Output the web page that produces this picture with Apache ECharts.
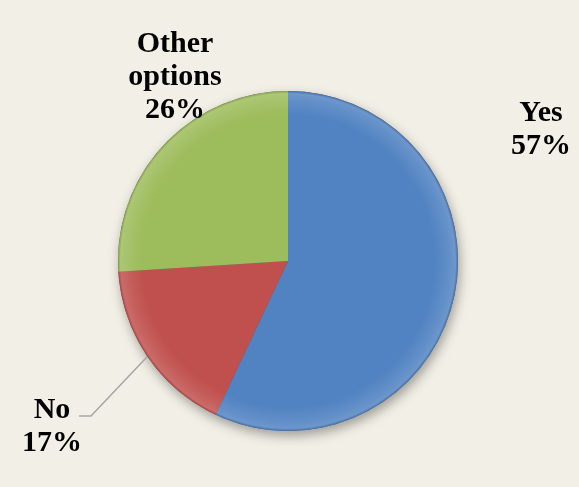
<!DOCTYPE html>
<html>
<head>
<meta charset="utf-8">
<script src="https://cdn.jsdelivr.net/npm/echarts@6/dist/echarts.min.js"></script>
<style>
  html, body { margin: 0; padding: 0; background: #F2F0E6; }
  #chart { width: 579px; height: 487px; }
</style>
</head>
<body>
<div id="chart"></div>
<script>
// Survey answers, in clockwise order from 12 o'clock
const categories = ['Yes', 'No', 'Other\noptions'];
const values = [57, 17, 26];
const colors = ['#5183C2', '#C0504D', '#9DBC5B'];

// Where each answer's label block sits (centre of the text block)
const labelSpots = [
  { x: 541, y: 130 },
  { x: 52, y: 427 },
  { x: 175, y: 77 }
];

const PIE_CENTER = [288, 261];
const PIE_RADIUS = 170;

const chart = echarts.init(document.getElementById('chart'), null, { renderer: 'canvas' });

const labelFont = {
  fontFamily: '"Liberation Serif", "Times New Roman", serif',
  fontWeight: 'bold',
  fontSize: 30,
  lineHeight: 33,
  color: '#000000'
};

const option = {
  backgroundColor: '#F2F0E6',
  animation: false,
  series: [
    // soft drop shadow under the whole disc
    {
      type: 'pie',
      silent: true,
      center: PIE_CENTER,
      radius: PIE_RADIUS,
      label: { show: false },
      labelLine: { show: false },
      itemStyle: {
        color: '#5a5a5a',
        shadowBlur: 12,
        shadowOffsetX: 2,
        shadowOffsetY: 5,
        shadowColor: 'rgba(0,0,0,0.35)'
      },
      data: [1],
      z: 1
    },
    {
      type: 'pie',
      center: PIE_CENTER,
      radius: PIE_RADIUS,
      startAngle: 90,
      clockwise: true,
      avoidLabelOverlap: false,
      itemStyle: { borderWidth: 0 },
      label: Object.assign({
        show: true,
        position: 'outside',
        formatter: p => p.name + '\n' + p.value + '%',
        align: 'center'
      }, labelFont),
      labelLine: {
        show: false,
        lineStyle: { color: '#A6A6A6', width: 1.5 }
      },
      labelLayout: function (params) {
        const spot = labelSpots[params.dataIndex];
        const out = { x: spot.x, y: spot.y, align: 'center', verticalAlign: 'middle' };
        if (params.dataIndex === 1 && params.labelLinePoints) {
          // elbow line: from the slice rim down-left to a short tick beside "No"
          const start = params.labelLinePoints[0];
          const rowY = spot.y - 11;
          out.labelLinePoints = [
            start,
            [spot.x + 39, rowY],
            [spot.x + 27, rowY]
          ];
        }
        return out;
      },
      data: categories.map((name, i) => ({
        name: name,
        value: values[i],
        itemStyle: { color: colors[i] },
        labelLine: { show: i === 1 }
      })),
      z: 2
    },
    // bevel sheen along the rim
    {
      type: 'pie',
      silent: true,
      center: PIE_CENTER,
      radius: PIE_RADIUS,
      label: { show: false },
      labelLine: { show: false },
      itemStyle: {
        color: {
          type: 'radial', x: 0.5, y: 0.5, r: 0.5,
          colorStops: [
            { offset: 0, color: 'rgba(255,255,255,0)' },
            { offset: 0.86, color: 'rgba(255,255,255,0)' },
            { offset: 0.95, color: 'rgba(255,255,255,0.10)' },
            { offset: 0.985, color: 'rgba(255,255,255,0.16)' },
            { offset: 1, color: 'rgba(0,0,0,0.12)' }
          ]
        }
      },
      data: [1],
      z: 3
    }
  ]
};

chart.setOption(option);
</script>
</body>
</html>
